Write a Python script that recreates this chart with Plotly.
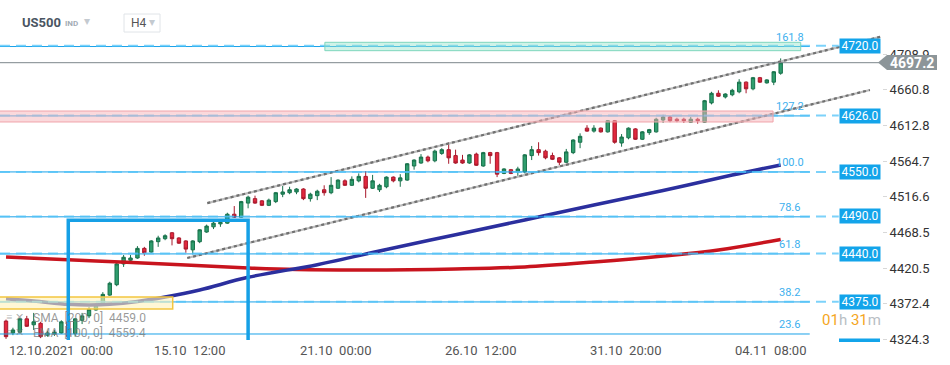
import plotly.graph_objects as go

# ---------------- data ----------------
candle_idx = list(range(113))
opens = [4349,4333,4334,4352,4344,4346,4330,4332,4333,4348,
         4332,4350,4356,4364,4373,4384,4398,4426,4431,4434,
         4447,4442,4456,4460,4468,4461,4457,4445,4456,4469,
         4476,4480,4481,4493,4489,4508,4514,4511,4505,4510,
         4520,4522,4523,4527,4514,4518,4526,4522,4528,4538,
         4532,4538,4544,4528,4526,4530,4543,4538,4539,4558,
         4562,4570,4565,4575,4580,4572,4566,4562,4574,4558,
         4576,4576,4548,4553,4550,4550,4572,4580,4578,4572,
         4569,4563,4576,4590,4609,4605,4609,4604,4619,4589,
         4596,4608,4594,4603,4604,4620,4624,4621,4621,4617,
         4621,4617,4643,4656,4651,4654,4658,4671,4662,4677,
         4670,4671,4683]
closes = [4328,4337,4352,4342,4348,4328,4333,4334,4348,4328,
          4352,4356,4365,4371,4385,4400,4426,4435,4434,4447,
          4441,4457,4461,4464,4460,4454,4446,4457,4472,4477,
          4481,4482,4493,4489,4510,4516,4508,4505,4512,4522,
          4523,4526,4527,4514,4520,4524,4522,4532,4539,4532,
          4540,4544,4528,4538,4532,4543,4538,4542,4561,4566,
          4570,4565,4578,4580,4569,4562,4562,4573,4559,4576,
          4572,4547,4554,4548,4554,4573,4580,4576,4569,4567,
          4563,4577,4593,4598,4605,4609,4604,4619,4590,4597,
          4609,4594,4604,4607,4621,4624,4619,4619,4619,4621,
          4619,4646,4656,4652,4655,4660,4671,4662,4677,4671,
          4674,4685,4697.2]
highs = [4351,4340,4353,4356,4360,4348,4336,4337,4350,4350,
         4353,4360,4368,4373,4388,4402,4429,4438,4438,4450,
         4449,4458,4464,4466,4469,4462,4458,4458,4473,4479,
         4484,4485,4495,4504,4511,4518,4518,4512,4514,4523,
         4531,4530,4528,4528,4522,4526,4532,4543,4540,4540,
         4544,4548,4551,4546,4534,4544,4544,4547,4562,4567,
         4574,4572,4580,4582,4590,4580,4573,4574,4576,4577,
         4577,4577,4555,4554,4557,4574,4585,4590,4580,4576,
         4570,4581,4594,4602,4613,4613,4610,4620,4620,4601,
         4610,4609,4605,4608,4623,4627,4625,4623,4623,4624,
         4623,4647,4658,4660,4656,4662,4675,4672,4678,4678,
         4675,4686,4703]
lows = [4325,4330,4332,4341,4337,4326,4328,4329,4332,4326,
        4328,4345,4353,4363,4372,4383,4396,4422,4429,4433,
        4437,4441,4449,4458,4451,4453,4441,4439,4454,4468,
        4473,4476,4480,4488,4488,4501,4507,4504,4504,4508,
        4516,4520,4520,4512,4510,4512,4518,4520,4527,4531,
        4531,4536,4515,4527,4523,4528,4536,4530,4538,4553,
        4561,4563,4563,4573,4561,4561,4561,4561,4558,4557,
        4561,4543,4547,4547,4544,4548,4566,4572,4567,4566,
        4559,4562,4574,4582,4604,4603,4603,4603,4588,4584,
        4594,4593,4593,4600,4603,4616,4617,4617,4616,4616,
        4615,4616,4641,4651,4649,4652,4656,4656,4660,4670,
        4669,4667,4681]

sma_idx = [0, 13, 26, 35, 42, 55, 65, 75, 85, 95, 103, 112]
sma_vals = [4435.3, 4430.0, 4424.6, 4420.5, 4418.5, 4418.0, 4419.2, 4421.9,
            4428.6, 4436.7, 4444.8, 4459.0]
ema_idx = [0, 4, 9, 12, 15, 19, 23, 28, 35, 45, 55, 65, 75, 85, 95, 105, 112]
ema_vals = [4379.0, 4376.0, 4371.6, 4370.7, 4371.6, 4375.4, 4381.4, 4390.9,
            4408.0, 4425.0, 4445.4, 4465.4, 4485.2, 4505.4, 4525.0, 4545.9, 4559.4]

x_tick_idx = [0, 21, 42, 63, 84, 105]
x_tick_text = ["12.10.2021  00:00", "15.10  12:00", "21.10  00:00",
               "26.10  12:00", "31.10  20:00", "04.11  08:00"]

y_tick_vals = [4324.3, 4372.4, 4420.5, 4468.5, 4516.6, 4564.7, 4612.8, 4660.8, 4708.9]

level_vals = [4720.0, 4626.0, 4550.0, 4490.0, 4440.0, 4375.0]
fib_labels = ["161.8", "127.2", "100.0", "78.6", "61.8", "38.2", "23.6"]
fib_prices = [4719.0, 4625.5, 4550.0, 4489.5, 4439.5, 4374.8, 4331.6]

chan_upper_x = [29.1, 126.4]
chan_upper_y = [4508.0, 4732.0]
chan_lower_x = [26.2, 124.9]
chan_lower_y = [4434.0, 4660.4]

zone_cyan = dict(x0=46.1, x1=114.9, y0=4713.4, y1=4724.7)
zone_pink = dict(x0=-1.0, x1=110.9, y0=4617.3, y1=4632.1)
zone_yellow = dict(x0=-1.0, x1=24.1, y0=4365.3, y1=4381.4)
box_blue = dict(x0=9.0, x1=35.0, y0=4300.0, y1=4485.0)

last_price = 4697.2
sma_last = 4459.0
ema_last = 4559.4

X_RANGE = [-0.87, 126.65]
Y_RANGE = [4323.5, 4781.7]

# ---------------- helpers (pixel -> paper) ----------------
PW, PH = 882.0, 340.0
def xp(px):
    return px / PW
def yp(py):
    return 1 - py / PH

FONT = "Roboto"
fig = go.Figure()

fig.add_trace(go.Candlestick(
    x=candle_idx, open=opens, high=highs, low=lows, close=closes,
    increasing=dict(line=dict(color="#17704a", width=1), fillcolor="#2f9e6e"),
    decreasing=dict(line=dict(color="#a8182b", width=1), fillcolor="#e2283e"),
    whiskerwidth=0, showlegend=False, hoverinfo="skip"))

fig.add_trace(go.Scatter(x=sma_idx, y=sma_vals, mode="lines",
                         line=dict(color="#c8141e", width=3.5, shape="spline"),
                         hoverinfo="skip", showlegend=False))
fig.add_trace(go.Scatter(x=ema_idx, y=ema_vals, mode="lines",
                         line=dict(color="#2b2f9e", width=3.5, shape="spline"),
                         hoverinfo="skip", showlegend=False))

for cx, cy in [(chan_upper_x, chan_upper_y), (chan_lower_x, chan_lower_y)]:
    fig.add_trace(go.Scatter(x=cx, y=cy, mode="lines",
                             line=dict(color="#bdbdbd", width=2.2),
                             hoverinfo="skip", showlegend=False))
    fig.add_trace(go.Scatter(x=cx, y=cy, mode="lines",
                             line=dict(color="#707070", width=2.2, dash="3px,3px"),
                             hoverinfo="skip", showlegend=False))

shapes = []
for fp in fib_prices:
    shapes.append(dict(type="line", xref="x", yref="y", x0=X_RANGE[0], x1=116.2,
                       y0=fp, y1=fp, line=dict(color="#1aa1e8", width=1), layer="above"))
for lv in level_vals:
    shapes.append(dict(type="line", xref="x", yref="y", x0=X_RANGE[0], x1=120.4,
                       y0=lv, y1=lv, line=dict(color="rgba(80,195,248,0.75)", width=2,
                                                dash="10px,6px"), layer="above"))
shapes.append(dict(type="line", xref="paper", yref="y", x0=0, x1=1,
                   y0=last_price, y1=last_price, line=dict(color="#7d878c", width=1)))
shapes.append(dict(type="rect", xref="x", yref="y", **zone_cyan,
                   fillcolor="rgba(150,228,205,0.45)", line=dict(color="#7fd6bd", width=1),
                   layer="above"))
shapes.append(dict(type="rect", xref="x", yref="y", **zone_pink,
                   fillcolor="rgba(245,180,185,0.5)", line=dict(color="#f0a4aa", width=1),
                   layer="above"))
shapes.append(dict(type="rect", xref="x", yref="y", **zone_yellow,
                   fillcolor="rgba(255,242,185,0.6)", line=dict(color="#f3c63f", width=1.5),
                   layer="above"))
shapes.append(dict(type="rect", xref="x", yref="y", **box_blue,
                   line=dict(color="#16a0e6", width=3.5), layer="above"))
path = "M {a} {b} L {c} {d} L {e} {d} L {e} {f} L {c} {f} Z".format(
    a=xp(878), b=yp(62.5), c=xp(887), d=yp(55), e=xp(937), f=yp(70))
shapes.append(dict(type="path", xref="paper", yref="paper", path=path,
                   fillcolor="#8c9599", line=dict(width=0)))
shapes.append(dict(type="rect", xref="paper", yref="paper", x0=xp(124), x1=xp(160),
                   y0=yp(32), y1=yp(14), line=dict(color="#e0e4e8", width=1),
                   fillcolor="white"))
shapes.append(dict(type="rect", xref="paper", yref="paper", x0=xp(839), x1=xp(880),
                   y0=yp(342), y1=yp(338.5), line=dict(width=0), fillcolor="#13a4ea"))


def ann(**kw):
    kw.setdefault("showarrow", False)
    kw.setdefault("xanchor", "center")
    kw.setdefault("yanchor", "middle")
    return kw

annotations = []
for ti, tt in zip(x_tick_idx, x_tick_text):
    annotations.append(ann(x=ti, y=0, xref="x", yref="paper", text=tt,
                           xanchor="left", yanchor="top", yshift=-1, xshift=1,
                           font=dict(family=FONT, size=13, color="#555")))
for lv in level_vals:
    annotations.append(ann(x=xp(859.5), y=lv, xref="paper", yref="y",
                           text=f"{lv:.1f}", bgcolor="#13a4ea",
                           width=40, height=14, borderpad=0,
                           font=dict(family=FONT, size=12, color="white")))
for fl, fp in zip(fib_labels, fib_prices):
    annotations.append(ann(x=113.3, y=fp, xref="x", yref="y", text=fl,
                           yanchor="bottom", yshift=1,
                           font=dict(family=FONT, size=11, color="#3db0ee")))
annotations.append(ann(x=xp(912), y=last_price, xref="paper", yref="y",
                       text=f"<b>{last_price:.1f}</b>",
                       font=dict(family=FONT, size=14, color="white")))
annotations.append(ann(x=xp(20), y=yp(23), xref="paper", yref="paper", text="<b>US500</b>",
                       xanchor="left", font=dict(family=FONT, size=13, color="#4a5562")))
annotations.append(ann(x=xp(63), y=yp(24), xref="paper", yref="paper", text="<b>IND</b>",
                       xanchor="left", font=dict(family=FONT, size=8, color="#a3acb5")))
annotations.append(ann(x=xp(87), y=yp(21), xref="paper", yref="paper", text="▾",
                       font=dict(family=FONT, size=12, color="#c4cad0")))
annotations.append(ann(x=xp(129), y=yp(23), xref="paper", yref="paper", text="H4",
                       xanchor="left", font=dict(family=FONT, size=12, color="#555")))
annotations.append(ann(x=xp(152), y=yp(22), xref="paper", yref="paper", text="▾",
                       font=dict(family=FONT, size=12, color="#c4cad0")))
annotations.append(ann(x=xp(4), y=yp(317), xref="paper", yref="paper", text="≡ ✕",
                       xanchor="left",
                       font=dict(family=FONT, size=11, color="rgba(120,120,120,0.6)")))
annotations.append(ann(x=xp(4), y=yp(332), xref="paper", yref="paper", text="≡ ✕",
                       xanchor="left",
                       font=dict(family=FONT, size=11, color="rgba(120,120,120,0.6)")))
annotations.append(ann(x=xp(31), y=yp(318), xref="paper", yref="paper",
                       text=f"SMA  [200, 0]  {sma_last:.1f}", xanchor="left",
                       font=dict(family=FONT, size=12, color="rgba(120,120,120,0.75)")))
annotations.append(ann(x=xp(31), y=yp(333), xref="paper", yref="paper",
                       text=f"EMA  [100, 0]  {ema_last:.1f}", xanchor="left",
                       font=dict(family=FONT, size=12, color="rgba(120,120,120,0.75)")))
annotations.append(ann(x=xp(851), y=yp(320), xref="paper", yref="paper",
                       text="<span style='color:#f5a623'>01</span><span style='color:#b8bec4'>h</span> "
                            "<span style='color:#f5a623'>31</span><span style='color:#b8bec4'>m</span>",
                       font=dict(family=FONT, size=15)))

fig.update_layout(
    width=950, height=365,
    margin=dict(l=0, r=68, t=0, b=25),
    plot_bgcolor="white", paper_bgcolor="white",
    showlegend=False, font=dict(family=FONT),
    shapes=shapes, annotations=annotations,
    xaxis=dict(range=X_RANGE, showgrid=False, zeroline=False, showticklabels=False,
               rangeslider=dict(visible=False), showline=False, fixedrange=True),
    yaxis=dict(range=Y_RANGE, side="right", showgrid=False, zeroline=False,
               tickvals=y_tick_vals, ticktext=[f"{v:.1f}" for v in y_tick_vals],
               ticks="outside", ticklen=4, tickcolor="#d8d8d8",
               tickfont=dict(family=FONT, size=13, color="#333"), showline=False),
)

fig.write_html("out.html", config={"displayModeBar": False},
               post_script="document.body.style.margin='0';document.body.style.overflow='hidden';")
